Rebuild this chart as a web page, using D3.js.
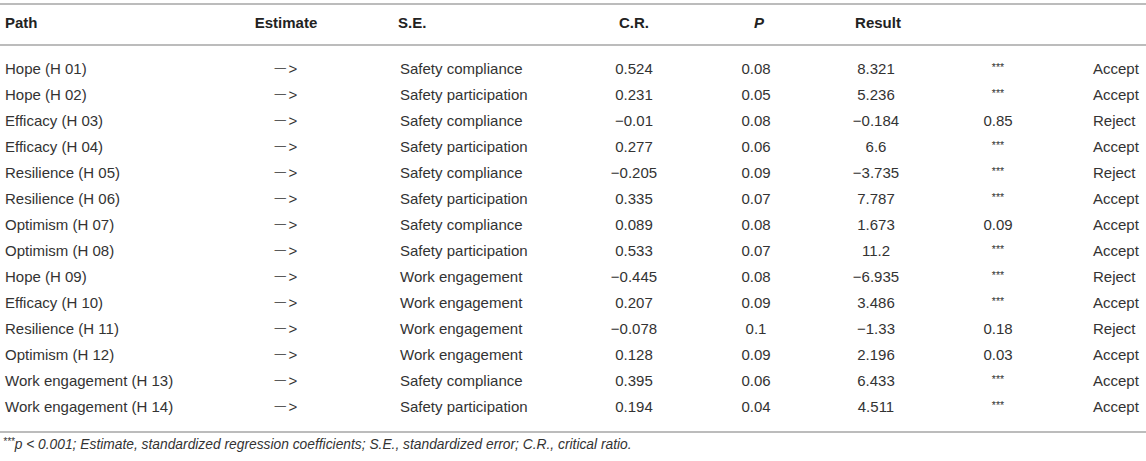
<!DOCTYPE html>
<html><head><meta charset="utf-8">
<script src="https://cdn.jsdelivr.net/npm/d3@7"></script>
<style>
html,body{margin:0;padding:0;background:#fff;}
svg{display:block;font-family:"Liberation Sans",Arial,Helvetica,sans-serif;}
</style></head>
<body>
<svg id="t" width="1146" height="461"></svg>
<script>
const headers = ["Path","Estimate","S.E.","C.R.","P","Result"];
const paths = ["Hope (H 01)","Hope (H 02)","Efficacy (H 03)","Efficacy (H 04)","Resilience (H 05)","Resilience (H 06)","Optimism (H 07)","Optimism (H 08)","Hope (H 09)","Efficacy (H 10)","Resilience (H 11)","Optimism (H 12)","Work engagement (H 13)","Work engagement (H 14)"];
const arrows = paths.map(() => "—>");
const outcomes = ["Safety compliance","Safety participation","Safety compliance","Safety participation","Safety compliance","Safety participation","Safety compliance","Safety participation","Work engagement","Work engagement","Work engagement","Work engagement","Safety compliance","Safety participation"];
const estimates = [0.524,0.231,-0.01,0.277,-0.205,0.335,0.089,0.533,-0.445,0.207,-0.078,0.128,0.395,0.194];
const stdErrors = [0.08,0.05,0.08,0.06,0.09,0.07,0.08,0.07,0.08,0.09,0.1,0.09,0.06,0.04];
const critRatios = [8.321,5.236,-0.184,6.6,-3.735,7.787,1.673,11.2,-6.935,3.486,-1.33,2.196,6.433,4.511];
const pValues = ["***","***","0.85","***","***","***","0.09","***","***","***","0.18","0.03","***","***"];
const results = ["Accept","Accept","Reject","Accept","Reject","Accept","Accept","Accept","Reject","Accept","Reject","Accept","Accept","Accept"];
const footnote = "p < 0.001; Estimate, standardized regression coefficients; S.E., standardized error; C.R., critical ratio.";

const fmt = v => (v < 0 ? "\u2212" : "") + String(Math.abs(v));
const svg = d3.select("#t");
const W = 1146;
const ink = "#333";
const rule = "#a6a6a6";
const FS = 15;

// rules
[4, 45, 432].forEach(y => svg.append("line").attr("x1",0).attr("x2",W).attr("y1",y).attr("y2",y)
  .attr("stroke",rule).attr("stroke-width",1.6));

// header
const hdrPos = [{x:5,a:"start"},{x:286,a:"middle"},{x:398,a:"start"},{x:634,a:"middle"},{x:759,a:"middle"},{x:878,a:"middle"}];
svg.selectAll("text.h").data(headers).join("text").attr("class","h")
  .attr("x",(d,i)=>hdrPos[i].x).attr("y",28).attr("text-anchor",(d,i)=>hdrPos[i].a)
  .attr("font-size",FS).attr("font-weight","bold").attr("fill","#222")
  .attr("font-style",d=>d==="P"?"italic":"normal").text(d=>d);

// rows
const y = d3.scaleLinear().domain([0, paths.length-1]).range([74, 412]);
const rows = paths.map((p,i)=>({i, cells:[p, arrows[i], outcomes[i], fmt(estimates[i]), String(stdErrors[i]), fmt(critRatios[i]), pValues[i], results[i]]}));
const colPos = [{x:5,a:"start"},{x:286,a:"middle"},{x:400,a:"start"},{x:634,a:"middle"},{x:756,a:"middle"},{x:876,a:"middle"},{x:998,a:"middle"},{x:1093,a:"start"}];
const g = svg.selectAll("g.r").data(rows).join("g").attr("class","r");
const cells = g.selectAll("text").data(r=>r.cells.map((c,j)=>({c,j,i:r.i}))).join("text")
  .attr("x",d=>colPos[d.j].x).attr("y",d=>y(d.i)+(d.c==="***"?-3:0))
  .attr("text-anchor",d=>colPos[d.j].a)
  .attr("font-size",d=>d.c==="***"?10.5:FS).attr("fill",ink);
cells.filter(d=>d.j!==1).text(d=>d.c);
// arrow: shorter dash raised to mid-height, small gap, then ">"
cells.filter(d=>d.j===1).each(function(d){
  const t = d3.select(this);
  t.append("tspan").attr("font-size",11.5).attr("dy",-2.6).text(d.c.slice(0,1));
  t.append("tspan").attr("dx",2.5).attr("dy",2.6).text(d.c.slice(1));
});

// footnote
const fn = svg.append("text").attr("x",3).attr("y",449).attr("font-size",13.8).attr("font-style","italic").attr("fill",ink);
fn.append("tspan").attr("font-size",10).attr("dy",-4).text("***");
fn.append("tspan").attr("dy",4).text(footnote);
</script>
</body></html>
